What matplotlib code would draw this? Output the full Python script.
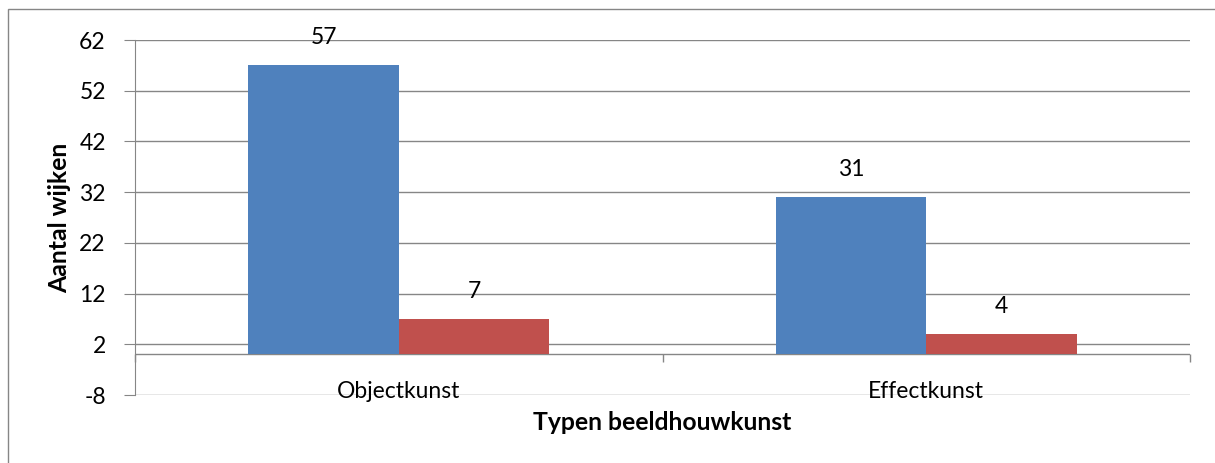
import matplotlib
matplotlib.use('Agg')

import matplotlib.pyplot as plt
from matplotlib.patches import Rectangle

categories = ['Objectkunst', 'Effectkunst']
series_a = [57, 31]
series_b = [7, 4]
y_ticks = [-8, 2, 12, 22, 32, 42, 52, 62]

blue = '#4F81BD'
red = '#C0504D'
grey = '#868686'

plt.rcParams['font.family'] = ['Lato', 'DejaVu Sans']
plt.rcParams['axes.unicode_minus'] = False

fs = 16.5
fs_title = 17.8

fig = plt.figure(figsize=(12.15, 4.63), dpi=100)
W, H = 1215.0, 463.0

# chart border (only top and left edge lie inside the picture)
fig.patches.append(Rectangle((8 / W, -0.2), 1.2, (H - 9) / H + 0.2, transform=fig.transFigure,
                             fill=False, edgecolor=grey, linewidth=1.0))

ax = fig.add_axes([135 / W, (H - 395) / H, (1190 - 135) / W, (395 - 40) / H])

w = 0.285
x = list(range(len(categories)))
ax.bar([i - w / 2 for i in x], series_a, width=w, color=blue, zorder=3)
ax.bar([i + w / 2 for i in x], series_b, width=w, color=red, zorder=3)

for i in x:
    ax.text(i - w / 2, series_a[i] + 5.5, str(series_a[i]), ha='center', va='center',
            fontsize=fs, zorder=4)
    ax.text(i + w / 2, series_b[i] + 5.5, str(series_b[i]), ha='center', va='center',
            fontsize=fs, zorder=4)
    ax.text(i, -7.3, categories[i], ha='center', va='center', fontsize=fs, zorder=4)

ax.set_xlim(-0.5, 1.5)
ax.set_ylim(-8, 62)
ax.set_yticks(y_ticks)
ax.set_xticks([])
ax.tick_params(axis='y', length=8, color=grey, labelsize=fs, pad=13)
ax.yaxis.grid(True, color=grey, linewidth=1.0, zorder=0)
ax.set_axisbelow(True)

for s in ['top', 'right', 'bottom']:
    ax.spines[s].set_visible(False)
ax.spines['left'].set_color(grey)

# category axis at zero with its tick marks
ax.axhline(0, color=grey, linewidth=1.0, zorder=2)
ax.vlines([-0.5, 0.5, 1.5], -1.4, 0, color=grey, linewidth=1.0, zorder=2, clip_on=False)

fig.text(60 / W, (H - 218) / H, 'Aantal wijken', rotation=90, ha='center', va='center',
         fontsize=fs_title, fontweight='bold')
fig.text(662 / W, (H - 422) / H, 'Typen beeldhouwkunst', ha='center', va='center',
         fontsize=fs_title, fontweight='bold')

fig.savefig('out.png', dpi=100)
